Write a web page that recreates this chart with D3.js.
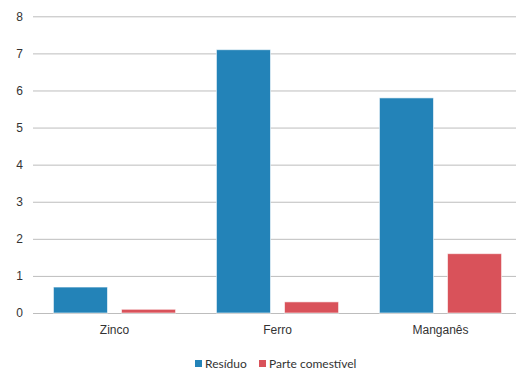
<!DOCTYPE html>
<html>
<head>
<meta charset="utf-8">
<script src="https://cdn.jsdelivr.net/npm/d3@7"></script>
<style>
  html, body { margin: 0; padding: 0; background: #fff; }
  svg { display: block; font-family: Lato, "Open Sans", sans-serif; }
</style>
</head>
<body>
<svg id="chart" width="516" height="371"></svg>
<script>
// Mineral content by plant part
const categories = ["Zinco", "Ferro", "Manganês"];
const seriesNames = ["Resíduo", "Parte comestível"];
const residuo = [0.7, 7.1, 5.8];
const parteComestivel = [0.1, 0.3, 1.6];
const yTicks = [0, 1, 2, 3, 4, 5, 6, 7, 8];
const colors = ["#2383b8", "#d9525a"];

const values = [residuo, parteComestivel];
const svg = d3.select("#chart");

const plot = { left: 33, right: 522, top: 16.3, bottom: 313 };

const x = d3.scaleBand().domain(categories).range([plot.left, plot.right]).paddingInner(0).paddingOuter(0);
const xInner = d3.scaleBand().domain(seriesNames).range([0, x.bandwidth()]).paddingInner(0.206).paddingOuter(0.3);
const y = d3.scaleLinear().domain([0, 8]).range([plot.bottom, plot.top]);

// horizontal gridlines and value labels
const yAxis = d3.axisLeft(y).tickValues(yTicks).tickSize(-(516 - plot.left)).tickPadding(10).tickFormat(d3.format("d"));
const gy = svg.append("g").attr("transform", `translate(${plot.left},0)`).call(yAxis);
gy.select(".domain").remove();
gy.selectAll(".tick line").attr("stroke", "#bdbdbd").attr("stroke-width", 1);
gy.selectAll(".tick text").attr("fill", "#333").attr("font-size", 12);

// bars
const groups = svg.append("g").selectAll("g")
  .data(categories)
  .join("g")
  .attr("transform", d => `translate(${x(d)},0)`);

groups.selectAll("rect")
  .data((d, i) => seriesNames.map((s, j) => ({ s, v: values[j][i], j })))
  .join("rect")
  .attr("x", d => xInner(d.s))
  .attr("y", d => y(d.v))
  .attr("width", xInner.bandwidth())
  .attr("height", d => y(0) - y(d.v))
  .attr("fill", d => colors[d.j])
  .attr("stroke", "rgba(255,255,255,0.6)")
  .attr("stroke-width", 1);

// category labels
const xAxis = d3.axisBottom(x).tickSize(0).tickPadding(12);
const gx = svg.append("g").attr("transform", `translate(0,${plot.bottom})`).call(xAxis);
gx.select(".domain").remove();
gx.selectAll(".tick text").attr("fill", "#333").attr("font-size", 12);

// legend
const legendItems = [{ name: seriesNames[0], x: 195 }, { name: seriesNames[1], x: 259 }];
const legend = svg.append("g").selectAll("g")
  .data(legendItems)
  .join("g")
  .attr("transform", d => `translate(${d.x},360)`);
legend.append("rect").attr("width", 7).attr("height", 7).attr("fill", (d, i) => colors[i]);
legend.append("text").attr("x", 10).attr("y", 7.5).attr("font-size", 12).attr("fill", "#333").text(d => d.name);
</script>
</body>
</html>
